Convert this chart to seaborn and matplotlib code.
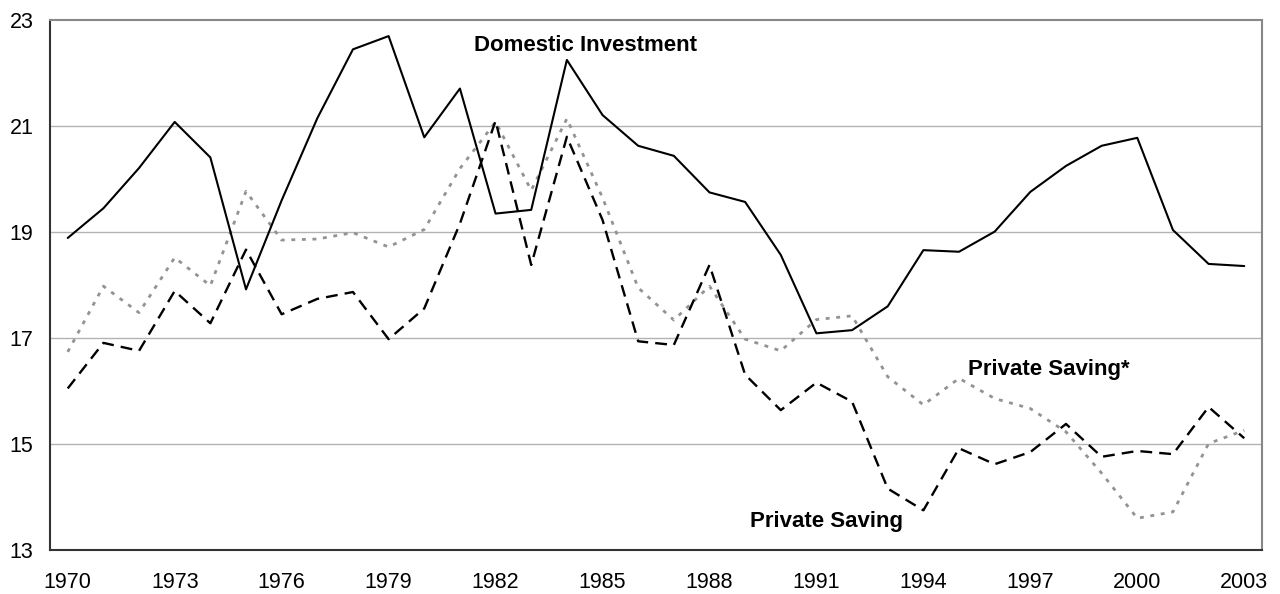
import numpy as np
import pandas as pd
import seaborn as sns
import matplotlib.pyplot as plt

years = list(range(1970, 2004))

domestic_investment = [
    18.89, 19.45, 20.21, 21.08, 20.41, 17.92, 19.60, 21.15, 22.45, 22.70,
    20.79, 21.71, 19.35, 19.42, 22.25, 21.21, 20.63, 20.44, 19.75, 19.57,
    18.57, 17.09, 17.15, 17.60, 18.66, 18.63, 19.01, 19.76, 20.25, 20.63,
    20.78, 19.04, 18.40, 18.36,
]

private_saving = [
    16.05, 16.91, 16.76, 17.89, 17.28, 18.67, 17.45, 17.74, 17.87, 16.98,
    17.56, 19.16, 21.10, 18.38, 20.80, 19.23, 16.94, 16.87, 18.38, 16.31,
    15.64, 16.16, 15.80, 14.16, 13.75, 14.92, 14.62, 14.85, 15.38, 14.76,
    14.87, 14.81, 15.70, 15.11,
]

private_saving_star = [
    16.74, 17.98, 17.48, 18.52, 17.99, 19.77, 18.85, 18.87, 18.99, 18.72,
    19.05, 20.20, 21.08, 19.79, 21.14, 19.65, 17.95, 17.34, 17.98, 16.98,
    16.76, 17.35, 17.42, 16.27, 15.74, 16.24, 15.86, 15.67, 15.23, 14.45,
    13.60, 13.72, 15.01, 15.26,
]

df = pd.DataFrame({
    "Year": years,
    "Domestic Investment": domestic_investment,
    "Private Saving": private_saving,
    "Private Saving*": private_saving_star,
})

sns.set_style("white")
plt.rcParams["font.family"] = ["Liberation Sans", "DejaVu Sans"]

fig, ax = plt.subplots(figsize=(12.8, 5.94), dpi=100)
fig.subplots_adjust(left=0.039, right=0.986, top=0.966, bottom=0.074)

for y in [15, 17, 19, 21]:
    ax.axhline(y, color="#b3b3b3", lw=1.0, zorder=0)

sns.lineplot(data=df, x="Year", y="Private Saving*", ax=ax, color="#939393",
             lw=2.0, linestyle=(0, (1.4, 2.4)))
sns.lineplot(data=df, x="Year", y="Private Saving", ax=ax, color="black",
             lw=1.7, linestyle=(0, (5, 3)))
sns.lineplot(data=df, x="Year", y="Domestic Investment", ax=ax, color="black",
             lw=1.5)

ax.set_xlim(1969.5, 2003.5)
ax.set_ylim(13, 23)
ax.set_xticks(list(range(1970, 2004, 3)))
ax.set_yticks([13, 15, 17, 19, 21, 23])
ax.tick_params(axis="x", labelsize=15.5, length=0, pad=16, labelcolor="black")
ax.tick_params(axis="y", labelsize=15.5, length=0, pad=12, labelcolor="black")
ax.set_xlabel("")
ax.set_ylabel("")

for side in ["left", "bottom"]:
    ax.spines[side].set_color("#333333")
    ax.spines[side].set_linewidth(1.5)
for side in ["top", "right"]:
    ax.spines[side].set_color("#888888")
    ax.spines[side].set_linewidth(1.5)

label_style = dict(fontsize=16, fontweight="bold", color="black", va="center")
ax.text(1984.52, 22.53, "Domestic Investment", ha="center", **label_style)
ax.text(1995.26, 16.4, "Private Saving*", ha="left", **label_style)
ax.text(1989.13, 13.53, "Private Saving", ha="left", **label_style)

fig.savefig("out.png", dpi=100)
